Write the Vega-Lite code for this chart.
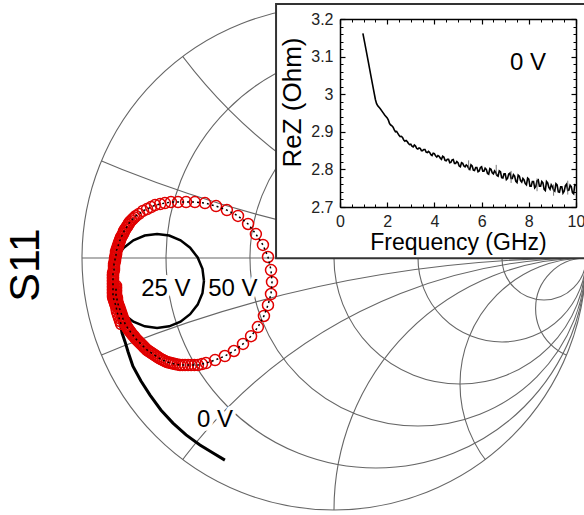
{
  "$schema": "https://vega.github.io/schema/vega-lite/v6.json",
  "width": 584,
  "height": 515,
  "autosize": {"type": "none"},
  "padding": 0,
  "background": "white",
  "config": {"view": {"stroke": null}, "font": "Liberation Sans"},
  "datasets": {
    "arcs": [
      {"u": 1, "v": 5, "rad": 5}, {"u": 1, "v": -5, "rad": 5},
      {"u": 1, "v": 2, "rad": 2}, {"u": 1, "v": -2, "rad": 2},
      {"u": 1, "v": 1, "rad": 1}, {"u": 1, "v": -1, "rad": 1},
      {"u": 1, "v": 0.5, "rad": 0.5}, {"u": 1, "v": -0.5, "rad": 0.5},
      {"u": 1, "v": 0.2, "rad": 0.2}, {"u": 1, "v": -0.2, "rad": 0.2}
    ],
    "mask": [{"u": 0, "v": 0, "rad": 1.357}],
    "circles": [
      {"u": 0, "v": 0, "rad": 1},
      {"u": 0.1667, "v": 0, "rad": 0.8333},
      {"u": 0.3333, "v": 0, "rad": 0.6667},
      {"u": 0.5, "v": 0, "rad": 0.5},
      {"u": 0.6667, "v": 0, "rad": 0.3333},
      {"u": 0.8333, "v": 0, "rad": 0.1667}
    ],
    "hline": [{"u": -1, "v": 0}, {"u": 1, "v": 0}],
    "labels": [
      {"u": -0.667, "v": -0.123, "t": "25 V"},
      {"u": -0.401, "v": -0.123, "t": "50 V"},
      {"u": -0.472, "v": -0.643, "t": "0 V"}
    ],
    "s11": [{"u": -1.222, "v": -0.028, "t": "S11"}],
    "s0": [
      {"k": 0, "u": -0.865, "v": -0.167}, {"k": 1, "u": -0.857, "v": -0.214},
      {"k": 2, "u": -0.849, "v": -0.258}, {"k": 3, "u": -0.841, "v": -0.298},
      {"k": 4, "u": -0.829, "v": -0.333}, {"k": 5, "u": -0.817, "v": -0.373},
      {"k": 6, "u": -0.798, "v": -0.429}, {"k": 7, "u": -0.766, "v": -0.488},
      {"k": 8, "u": -0.730, "v": -0.544}, {"k": 9, "u": -0.687, "v": -0.603},
      {"k": 10, "u": -0.639, "v": -0.655}, {"k": 11, "u": -0.587, "v": -0.702},
      {"k": 12, "u": -0.532, "v": -0.742}, {"k": 13, "u": -0.480, "v": -0.774},
      {"k": 14, "u": -0.433, "v": -0.802}
    ],
    "s25": [
      {"k": 0, "u": -0.516, "v": -0.091}, {"k": 1, "u": -0.522, "v": -0.043},
      {"k": 2, "u": -0.541, "v": 0.002}, {"k": 3, "u": -0.571, "v": 0.041},
      {"k": 4, "u": -0.609, "v": 0.070}, {"k": 5, "u": -0.654, "v": 0.089},
      {"k": 6, "u": -0.702, "v": 0.095}, {"k": 7, "u": -0.751, "v": 0.089},
      {"k": 8, "u": -0.796, "v": 0.070}, {"k": 9, "u": -0.834, "v": 0.041},
      {"k": 10, "u": -0.864, "v": 0.002}, {"k": 11, "u": -0.883, "v": -0.043},
      {"k": 12, "u": -0.889, "v": -0.091}, {"k": 13, "u": -0.883, "v": -0.140},
      {"k": 14, "u": -0.864, "v": -0.185}, {"k": 15, "u": -0.834, "v": -0.223},
      {"k": 16, "u": -0.796, "v": -0.253}, {"k": 17, "u": -0.751, "v": -0.271},
      {"k": 18, "u": -0.702, "v": -0.278}, {"k": 19, "u": -0.654, "v": -0.271},
      {"k": 20, "u": -0.609, "v": -0.253}, {"k": 21, "u": -0.571, "v": -0.223},
      {"k": 22, "u": -0.541, "v": -0.185}, {"k": 23, "u": -0.522, "v": -0.140},
      {"k": 24, "u": -0.516, "v": -0.091}
    ],
    "s50": [
      {"k": 0, "u": -0.845, "v": -0.262}, {"k": 0.5, "u": -0.849, "v": -0.250},
      {"k": 1, "u": -0.853, "v": -0.238}, {"k": 1.5, "u": -0.857, "v": -0.226},
      {"k": 2, "u": -0.861, "v": -0.214}, {"k": 2.5, "u": -0.863, "v": -0.202},
      {"k": 3, "u": -0.865, "v": -0.190}, {"k": 3.5, "u": -0.867, "v": -0.185},
      {"k": 4, "u": -0.869, "v": -0.179}, {"k": 4.5, "u": -0.871, "v": -0.173},
      {"k": 5, "u": -0.873, "v": -0.167}, {"k": 5.5, "u": -0.875, "v": -0.161},
      {"k": 6, "u": -0.877, "v": -0.155}, {"k": 6.5, "u": -0.877, "v": -0.149},
      {"k": 7, "u": -0.877, "v": -0.143}, {"k": 7.5, "u": -0.877, "v": -0.137},
      {"k": 8, "u": -0.877, "v": -0.131}, {"k": 8.5, "u": -0.877, "v": -0.125},
      {"k": 9, "u": -0.877, "v": -0.119}, {"k": 9.5, "u": -0.877, "v": -0.113},
      {"k": 10, "u": -0.877, "v": -0.107}, {"k": 10.5, "u": -0.877, "v": -0.101},
      {"k": 11, "u": -0.877, "v": -0.095}, {"k": 11.5, "u": -0.877, "v": -0.089},
      {"k": 12, "u": -0.877, "v": -0.083}, {"k": 12.5, "u": -0.877, "v": -0.077},
      {"k": 13, "u": -0.877, "v": -0.071}, {"k": 13.5, "u": -0.877, "v": -0.066},
      {"k": 14, "u": -0.877, "v": -0.060}, {"k": 14.5, "u": -0.875, "v": -0.054},
      {"k": 15, "u": -0.873, "v": -0.048}, {"k": 15.5, "u": -0.873, "v": -0.042},
      {"k": 16, "u": -0.873, "v": -0.036}, {"k": 16.5, "u": -0.873, "v": -0.030},
      {"k": 17, "u": -0.873, "v": -0.024}, {"k": 17.5, "u": -0.871, "v": -0.018},
      {"k": 18, "u": -0.869, "v": -0.012}, {"k": 18.5, "u": -0.869, "v": -0.006},
      {"k": 19, "u": -0.869, "v": 0.000}, {"k": 19.5, "u": -0.867, "v": 0.006},
      {"k": 20, "u": -0.865, "v": 0.012}, {"k": 20.5, "u": -0.865, "v": 0.018},
      {"k": 21, "u": -0.865, "v": 0.024}, {"k": 21.5, "u": -0.863, "v": 0.030},
      {"k": 22, "u": -0.861, "v": 0.036}, {"k": 22.5, "u": -0.859, "v": 0.042},
      {"k": 23, "u": -0.857, "v": 0.048}, {"k": 23.5, "u": -0.855, "v": 0.054},
      {"k": 24, "u": -0.853, "v": 0.060}, {"k": 24.5, "u": -0.851, "v": 0.066},
      {"k": 25, "u": -0.849, "v": 0.071}, {"k": 25.5, "u": -0.847, "v": 0.077},
      {"k": 26, "u": -0.845, "v": 0.083}, {"k": 26.5, "u": -0.841, "v": 0.089},
      {"k": 27, "u": -0.837, "v": 0.095}, {"k": 27.5, "u": -0.835, "v": 0.101},
      {"k": 28, "u": -0.833, "v": 0.107}, {"k": 28.5, "u": -0.829, "v": 0.113},
      {"k": 29, "u": -0.825, "v": 0.119}, {"k": 29.5, "u": -0.821, "v": 0.125},
      {"k": 30, "u": -0.817, "v": 0.131}, {"k": 30.5, "u": -0.814, "v": 0.137},
      {"k": 31, "u": -0.810, "v": 0.143}, {"k": 31.5, "u": -0.804, "v": 0.149},
      {"k": 32, "u": -0.798, "v": 0.155}, {"k": 32.5, "u": -0.792, "v": 0.161},
      {"k": 33, "u": -0.786, "v": 0.167},
      {"k": 34, "u": -0.774, "v": 0.175}, {"k": 35, "u": -0.758, "v": 0.187},
      {"k": 36, "u": -0.742, "v": 0.194}, {"k": 37, "u": -0.726, "v": 0.202},
      {"k": 38, "u": -0.710, "v": 0.210}, {"k": 39, "u": -0.690, "v": 0.214},
      {"k": 40, "u": -0.671, "v": 0.218}, {"k": 41, "u": -0.647, "v": 0.222},
      {"k": 42, "u": -0.619, "v": 0.222}, {"k": 43, "u": -0.587, "v": 0.222},
      {"k": 44, "u": -0.552, "v": 0.222}, {"k": 45, "u": -0.512, "v": 0.218},
      {"k": 46, "u": -0.468, "v": 0.206}, {"k": 47, "u": -0.425, "v": 0.190},
      {"k": 48, "u": -0.381, "v": 0.167}, {"k": 49, "u": -0.341, "v": 0.135},
      {"k": 50, "u": -0.310, "v": 0.095}, {"k": 51, "u": -0.282, "v": 0.052},
      {"k": 52, "u": -0.262, "v": 0.004}, {"k": 53, "u": -0.250, "v": -0.048},
      {"k": 54, "u": -0.246, "v": -0.095}, {"k": 55, "u": -0.250, "v": -0.143},
      {"k": 56, "u": -0.262, "v": -0.187}, {"k": 57, "u": -0.278, "v": -0.230},
      {"k": 58, "u": -0.302, "v": -0.274}, {"k": 59, "u": -0.329, "v": -0.310},
      {"k": 60, "u": -0.361, "v": -0.341}, {"k": 61, "u": -0.397, "v": -0.369},
      {"k": 62, "u": -0.433, "v": -0.389}, {"k": 63, "u": -0.472, "v": -0.405},
      {"k": 64, "u": -0.508, "v": -0.417}, {"k": 64.5, "u": -0.524, "v": -0.421},
      {"k": 65, "u": -0.540, "v": -0.425}, {"k": 65.5, "u": -0.554, "v": -0.425},
      {"k": 66, "u": -0.567, "v": -0.425}, {"k": 66.5, "u": -0.579, "v": -0.425},
      {"k": 67, "u": -0.591, "v": -0.425}, {"k": 67.5, "u": -0.601, "v": -0.425},
      {"k": 68, "u": -0.611, "v": -0.425}, {"k": 68.5, "u": -0.621, "v": -0.423},
      {"k": 69, "u": -0.631, "v": -0.421}, {"k": 69.5, "u": -0.639, "v": -0.419},
      {"k": 70, "u": -0.647, "v": -0.417}, {"k": 70.5, "u": -0.655, "v": -0.415},
      {"k": 71, "u": -0.663, "v": -0.413}, {"k": 71.5, "u": -0.671, "v": -0.409},
      {"k": 72, "u": -0.679, "v": -0.405}, {"k": 72.5, "u": -0.687, "v": -0.401},
      {"k": 73, "u": -0.694, "v": -0.397}, {"k": 73.5, "u": -0.700, "v": -0.393},
      {"k": 74, "u": -0.706, "v": -0.389}, {"k": 74.5, "u": -0.712, "v": -0.385},
      {"k": 75, "u": -0.718, "v": -0.381}, {"k": 75.5, "u": -0.724, "v": -0.377},
      {"k": 76, "u": -0.730, "v": -0.373}, {"k": 76.5, "u": -0.736, "v": -0.369},
      {"k": 77, "u": -0.742, "v": -0.365}, {"k": 77.5, "u": -0.748, "v": -0.359},
      {"k": 78, "u": -0.754, "v": -0.353}, {"k": 78.5, "u": -0.758, "v": -0.349},
      {"k": 79, "u": -0.762, "v": -0.345}, {"k": 79.5, "u": -0.766, "v": -0.341},
      {"k": 80, "u": -0.770, "v": -0.337}, {"k": 80.5, "u": -0.774, "v": -0.333},
      {"k": 81, "u": -0.778, "v": -0.329}, {"k": 81.5, "u": -0.782, "v": -0.325},
      {"k": 82, "u": -0.786, "v": -0.321}, {"k": 82.5, "u": -0.790, "v": -0.316},
      {"k": 83, "u": -0.794, "v": -0.310}, {"k": 83.5, "u": -0.798, "v": -0.306},
      {"k": 84, "u": -0.802, "v": -0.302}, {"k": 84.5, "u": -0.806, "v": -0.296},
      {"k": 85, "u": -0.810, "v": -0.290}, {"k": 85.5, "u": -0.814, "v": -0.286},
      {"k": 86, "u": -0.817, "v": -0.282}, {"k": 86.5, "u": -0.819, "v": -0.278},
      {"k": 87, "u": -0.821, "v": -0.274}, {"k": 87.5, "u": -0.825, "v": -0.268},
      {"k": 88, "u": -0.829, "v": -0.262}, {"k": 88.5, "u": -0.831, "v": -0.256},
      {"k": 89, "u": -0.833, "v": -0.250}, {"k": 89.5, "u": -0.835, "v": -0.246},
      {"k": 90, "u": -0.837, "v": -0.242}, {"k": 90.5, "u": -0.839, "v": -0.236},
      {"k": 91, "u": -0.841, "v": -0.230}, {"k": 91.5, "u": -0.843, "v": -0.224},
      {"k": 92, "u": -0.845, "v": -0.218}, {"k": 92.5, "u": -0.847, "v": -0.212},
      {"k": 93, "u": -0.849, "v": -0.206}, {"k": 93.5, "u": -0.851, "v": -0.200},
      {"k": 94, "u": -0.853, "v": -0.194}, {"k": 94.5, "u": -0.855, "v": -0.189},
      {"k": 95, "u": -0.857, "v": -0.183}, {"k": 95.5, "u": -0.859, "v": -0.177},
      {"k": 96, "u": -0.861, "v": -0.171}, {"k": 96.5, "u": -0.861, "v": -0.165},
      {"k": 97, "u": -0.861, "v": -0.159}, {"k": 97.5, "u": -0.863, "v": -0.153},
      {"k": 98, "u": -0.865, "v": -0.147}, {"k": 98.5, "u": -0.865, "v": -0.141},
      {"k": 99, "u": -0.865, "v": -0.135}, {"k": 99.5, "u": -0.865, "v": -0.129},
      {"k": 100, "u": -0.865, "v": -0.123}, {"k": 100.5, "u": -0.865, "v": -0.117},
      {"k": 101, "u": -0.865, "v": -0.111}
    ],
    "box": [{"f": -2.71, "f2": 10.6, "z": 2.564, "z2": 3.240}],
    "inlabel": [{"f": 7.97, "z": 3.083, "t": "0 V"}],
    "spikes": [
      {"f": 5.45, "z": 2.798, "z2": 2.824}, {"f": 6.62, "z": 2.784, "z2": 2.812},
      {"f": 7.25, "z": 2.764, "z2": 2.796}, {"f": 8.35, "z": 2.742, "z2": 2.776},
      {"f": 9.05, "z": 2.730, "z2": 2.760}, {"f": 9.65, "z": 2.733, "z2": 2.770}
    ],
    "rez": [
      {"f": 0.97, "z": 3.162}, {"f": 1.05, "z": 3.136}, {"f": 1.1, "z": 3.119},
      {"f": 1.2, "z": 3.086}, {"f": 1.3, "z": 3.052}, {"f": 1.4, "z": 3.019},
      {"f": 1.5, "z": 2.986}, {"f": 1.55, "z": 2.975}, {"f": 1.6, "z": 2.969},
      {"f": 1.7, "z": 2.962}, {"f": 1.8, "z": 2.953}, {"f": 1.9, "z": 2.944},
      {"f": 2.0, "z": 2.937}, {"f": 2.05, "z": 2.931}, {"f": 2.1, "z": 2.922}, {"f": 2.15, "z": 2.918},
      {"f": 2.2, "z": 2.916}, {"f": 2.25, "z": 2.912}, {"f": 2.3, "z": 2.905}, {"f": 2.35, "z": 2.900},
      {"f": 2.4, "z": 2.901}, {"f": 2.45, "z": 2.896}, {"f": 2.5, "z": 2.891}, {"f": 2.55, "z": 2.887},
      {"f": 2.6, "z": 2.888}, {"f": 2.65, "z": 2.885}, {"f": 2.7, "z": 2.878}, {"f": 2.75, "z": 2.875},
      {"f": 2.8, "z": 2.877}, {"f": 2.85, "z": 2.874}, {"f": 2.9, "z": 2.869}, {"f": 2.95, "z": 2.866},
      {"f": 3.0, "z": 2.867}, {"f": 3.05, "z": 2.862}, {"f": 3.1, "z": 2.860}, {"f": 3.15, "z": 2.865},
      {"f": 3.2, "z": 2.862}, {"f": 3.25, "z": 2.856}, {"f": 3.3, "z": 2.854}, {"f": 3.35, "z": 2.857},
      {"f": 3.4, "z": 2.856}, {"f": 3.45, "z": 2.850}, {"f": 3.5, "z": 2.850}, {"f": 3.55, "z": 2.853},
      {"f": 3.6, "z": 2.853}, {"f": 3.65, "z": 2.846}, {"f": 3.7, "z": 2.845}, {"f": 3.75, "z": 2.848},
      {"f": 3.8, "z": 2.845}, {"f": 3.85, "z": 2.839}, {"f": 3.9, "z": 2.837}, {"f": 3.95, "z": 2.843},
      {"f": 4.0, "z": 2.842}, {"f": 4.05, "z": 2.836}, {"f": 4.1, "z": 2.833}, {"f": 4.15, "z": 2.837},
      {"f": 4.2, "z": 2.835}, {"f": 4.25, "z": 2.830}, {"f": 4.3, "z": 2.827}, {"f": 4.35, "z": 2.835},
      {"f": 4.4, "z": 2.833}, {"f": 4.45, "z": 2.824}, {"f": 4.5, "z": 2.823}, {"f": 4.55, "z": 2.827},
      {"f": 4.6, "z": 2.827}, {"f": 4.65, "z": 2.818}, {"f": 4.7, "z": 2.819}, {"f": 4.75, "z": 2.825},
      {"f": 4.8, "z": 2.826}, {"f": 4.85, "z": 2.816}, {"f": 4.9, "z": 2.816}, {"f": 4.95, "z": 2.821},
      {"f": 5.0, "z": 2.818}, {"f": 5.05, "z": 2.809}, {"f": 5.1, "z": 2.807}, {"f": 5.15, "z": 2.818},
      {"f": 5.2, "z": 2.816}, {"f": 5.25, "z": 2.809}, {"f": 5.3, "z": 2.807}, {"f": 5.35, "z": 2.812},
      {"f": 5.4, "z": 2.809}, {"f": 5.45, "z": 2.803}, {"f": 5.5, "z": 2.800}, {"f": 5.55, "z": 2.812},
      {"f": 5.6, "z": 2.809}, {"f": 5.65, "z": 2.798}, {"f": 5.7, "z": 2.797}, {"f": 5.75, "z": 2.805},
      {"f": 5.8, "z": 2.805}, {"f": 5.85, "z": 2.794}, {"f": 5.9, "z": 2.796}, {"f": 5.95, "z": 2.805},
      {"f": 6.0, "z": 2.807}, {"f": 6.05, "z": 2.795}, {"f": 6.1, "z": 2.795}, {"f": 6.15, "z": 2.803},
      {"f": 6.2, "z": 2.800}, {"f": 6.25, "z": 2.789}, {"f": 6.3, "z": 2.787}, {"f": 6.35, "z": 2.802},
      {"f": 6.4, "z": 2.800}, {"f": 6.45, "z": 2.791}, {"f": 6.5, "z": 2.788}, {"f": 6.55, "z": 2.796},
      {"f": 6.6, "z": 2.792}, {"f": 6.65, "z": 2.784}, {"f": 6.7, "z": 2.782}, {"f": 6.75, "z": 2.796},
      {"f": 6.8, "z": 2.794}, {"f": 6.85, "z": 2.778}, {"f": 6.9, "z": 2.777}, {"f": 6.95, "z": 2.788},
      {"f": 7.0, "z": 2.788}, {"f": 7.05, "z": 2.773}, {"f": 7.1, "z": 2.776}, {"f": 7.15, "z": 2.788},
      {"f": 7.2, "z": 2.790}, {"f": 7.25, "z": 2.776}, {"f": 7.3, "z": 2.776}, {"f": 7.35, "z": 2.786},
      {"f": 7.4, "z": 2.782}, {"f": 7.45, "z": 2.768}, {"f": 7.5, "z": 2.765}, {"f": 7.55, "z": 2.785},
      {"f": 7.6, "z": 2.782}, {"f": 7.65, "z": 2.770}, {"f": 7.7, "z": 2.766}, {"f": 7.75, "z": 2.776},
      {"f": 7.8, "z": 2.772}, {"f": 7.85, "z": 2.762}, {"f": 7.9, "z": 2.759}, {"f": 7.95, "z": 2.777},
      {"f": 8.0, "z": 2.774}, {"f": 8.05, "z": 2.755}, {"f": 8.1, "z": 2.755}, {"f": 8.15, "z": 2.768},
      {"f": 8.2, "z": 2.768}, {"f": 8.25, "z": 2.751}, {"f": 8.3, "z": 2.755}, {"f": 8.35, "z": 2.770},
      {"f": 8.4, "z": 2.772}, {"f": 8.45, "z": 2.755}, {"f": 8.5, "z": 2.755}, {"f": 8.55, "z": 2.768},
      {"f": 8.6, "z": 2.764}, {"f": 8.65, "z": 2.747}, {"f": 8.7, "z": 2.744}, {"f": 8.75, "z": 2.768},
      {"f": 8.8, "z": 2.764}, {"f": 8.85, "z": 2.752}, {"f": 8.9, "z": 2.747}, {"f": 8.95, "z": 2.759},
      {"f": 9.0, "z": 2.754}, {"f": 9.05, "z": 2.745}, {"f": 9.1, "z": 2.742}, {"f": 9.15, "z": 2.762},
      {"f": 9.2, "z": 2.759}, {"f": 9.25, "z": 2.740}, {"f": 9.3, "z": 2.739}, {"f": 9.35, "z": 2.754},
      {"f": 9.4, "z": 2.754}, {"f": 9.45, "z": 2.737}, {"f": 9.5, "z": 2.742}, {"f": 9.55, "z": 2.757},
      {"f": 9.6, "z": 2.761}, {"f": 9.65, "z": 2.744}, {"f": 9.7, "z": 2.745}, {"f": 9.75, "z": 2.758},
      {"f": 9.8, "z": 2.754}, {"f": 9.85, "z": 2.738}, {"f": 9.9, "z": 2.735}, {"f": 9.95, "z": 2.759},
      {"f": 10.0, "z": 2.757}
    ]
  },
  "layer": [
    {
      "encoding": {
        "x": {"field": "u", "type": "quantitative", "scale": {"domain": [-1.3254, 0.9921], "nice": false, "zero": false}, "axis": null},
        "y": {"field": "v", "type": "quantitative", "scale": {"domain": [-1.0198, 1.0238], "nice": false, "zero": false}, "axis": null}
      },
      "layer": [
        {"data": {"name": "arcs"}, "mark": {"type": "point", "shape": "circle", "filled": false, "color": "#666666", "strokeWidth": 1.1, "opacity": 1},
         "encoding": {"size": {"field": "rad", "type": "quantitative", "scale": {"type": "pow", "exponent": 2, "domain": [0, 1], "range": [0, 254016]}, "legend": null}}},
        {"data": {"name": "mask"}, "mark": {"type": "point", "shape": "circle", "filled": false, "color": "white", "strokeWidth": 180, "opacity": 1},
         "encoding": {"size": {"field": "rad", "type": "quantitative", "scale": {"type": "pow", "exponent": 2, "domain": [0, 1], "range": [0, 254016]}, "legend": null}}},
        {"data": {"name": "circles"}, "mark": {"type": "point", "shape": "circle", "filled": false, "color": "#666666", "strokeWidth": 1.1, "opacity": 1},
         "encoding": {"size": {"field": "rad", "type": "quantitative", "scale": {"type": "pow", "exponent": 2, "domain": [0, 1], "range": [0, 254016]}, "legend": null}}},
        {"data": {"name": "hline"}, "mark": {"type": "line", "color": "#666666", "strokeWidth": 1.1}},
        {"data": {"name": "labels"}, "mark": {"type": "text", "fontSize": 24, "font": "Liberation Sans", "color": "white", "stroke": "white", "strokeWidth": 8, "strokeJoin": "round"},
         "encoding": {"text": {"field": "t"}}},
        {"data": {"name": "s0"}, "mark": {"type": "line", "color": "black", "strokeWidth": 3}, "encoding": {"order": {"field": "k"}}},
        {"data": {"name": "s25"}, "mark": {"type": "line", "color": "black", "strokeWidth": 2.5}, "encoding": {"order": {"field": "k"}}},
        {"data": {"name": "s50"}, "mark": {"type": "point", "shape": "circle", "filled": false, "color": "#e00000", "size": 121, "strokeWidth": 1.5, "opacity": 1}},
        {"data": {"name": "s50"}, "mark": {"type": "line", "color": "black", "strokeWidth": 1.5, "strokeDash": [2, 3]}, "encoding": {"order": {"field": "k"}}},
        {"data": {"name": "labels"}, "mark": {"type": "text", "fontSize": 24, "font": "Liberation Sans", "color": "black"},
         "encoding": {"text": {"field": "t"}}},
        {"data": {"name": "s11"}, "mark": {"type": "text", "fontSize": 43, "font": "Liberation Sans", "angle": 270, "color": "black"},
         "encoding": {"text": {"field": "t"}}}
      ]
    },
    {
      "layer": [
        {"data": {"name": "box"}, "mark": {"type": "rect", "fill": "white", "stroke": "#333", "strokeWidth": 2},
         "encoding": {
           "x": {"field": "f", "type": "quantitative", "scale": {"domain": [0, 10], "range": [340, 576], "nice": false, "zero": false},
                 "axis": {"orient": "bottom", "offset": -308, "values": [0, 2, 4, 6, 8, 10], "tickSize": -5, "tickColor": "black", "tickWidth": 1.2,
                          "domainColor": "black", "domainWidth": 1.5, "labelFontSize": 16, "labelFont": "Liberation Sans", "labelColor": "#222", "labelPadding": 11,
                          "labelFlush": false, "labelOverlap": false, "grid": false, "zindex": 1,
                          "title": "Frequency (GHz)", "titleFontSize": 23, "titleFont": "Liberation Sans", "titleFontWeight": "normal", "titleColor": "black", "titlePadding": 2}},
           "x2": {"field": "f2"},
           "y": {"field": "z", "type": "quantitative", "scale": {"domain": [2.7, 3.2], "range": [207, 19], "nice": false, "zero": false},
                 "axis": {"orient": "left", "offset": -340, "values": [2.7, 2.8, 2.9, 3.0, 3.1, 3.2], "tickSize": -5, "tickColor": "black", "tickWidth": 1.2,
                          "domainColor": "black", "domainWidth": 1.5, "labelFontSize": 16, "labelFont": "Liberation Sans", "labelColor": "#222", "labelPadding": 12,
                          "labelExpr": "format(datum.value, '.1~f')", "labelFlush": false, "labelOverlap": false, "grid": false, "zindex": 1,
                          "title": "ReZ (Ohm)", "titleFontSize": 26, "titleFont": "Liberation Sans", "titleFontWeight": "normal", "titleColor": "black", "titlePadding": 5, "titleY": 102}},
           "y2": {"field": "z2"}
         }},
        {"data": {"name": "rez"}, "mark": {"type": "line", "color": "black", "strokeWidth": 1.6},
         "encoding": {
           "x": {"field": "f", "type": "quantitative", "scale": {"domain": [0, 10], "range": [340, 576], "nice": false, "zero": false},
                 "axis": {"orient": "top", "offset": -19, "values": [0, 2, 4, 6, 8, 10], "tickSize": -5, "tickColor": "black", "tickWidth": 1.2,
                          "domainColor": "black", "domainWidth": 1.5, "labels": false, "title": null, "grid": false, "zindex": 1}},
           "y": {"field": "z", "type": "quantitative", "scale": {"domain": [2.7, 3.2], "range": [207, 19], "nice": false, "zero": false},
                 "axis": {"orient": "right", "offset": -8, "values": [2.7, 2.8, 2.9, 3.0, 3.1, 3.2], "tickSize": -5, "tickColor": "black", "tickWidth": 1.2,
                          "domainColor": "black", "domainWidth": 1.5, "labels": false, "title": null, "grid": false, "zindex": 1}}
         }},
        {"data": {"name": "spikes"}, "mark": {"type": "rule", "color": "#555", "strokeWidth": 0.8},
         "encoding": {
           "x": {"field": "f", "type": "quantitative", "scale": {"domain": [0, 10], "range": [340, 576], "nice": false, "zero": false},
                 "axis": {"orient": "bottom", "offset": -308, "values": [0, 0.5, 1, 1.5, 2, 2.5, 3, 3.5, 4, 4.5, 5, 5.5, 6, 6.5, 7, 7.5, 8, 8.5, 9, 9.5, 10],
                          "tickSize": -3, "tickColor": "black", "tickWidth": 1, "domain": false, "labels": false, "title": null, "grid": false, "zindex": 1}},
           "y": {"field": "z", "type": "quantitative", "scale": {"domain": [2.7, 3.2], "range": [207, 19], "nice": false, "zero": false},
                 "axis": {"orient": "left", "offset": -340, "values": [2.7, 2.72, 2.74, 2.76, 2.78, 2.8, 2.82, 2.84, 2.86, 2.88, 2.9, 2.92, 2.94, 2.96, 2.98, 3.0, 3.02, 3.04, 3.06, 3.08, 3.1, 3.12, 3.14, 3.16, 3.18, 3.2],
                          "tickSize": -3, "tickColor": "black", "tickWidth": 1, "domain": false, "labels": false, "title": null, "grid": false, "zindex": 1}},
           "y2": {"field": "z2"}
         }},
        {"data": {"name": "inlabel"}, "mark": {"type": "text", "fontSize": 24, "font": "Liberation Sans", "color": "black"},
         "encoding": {
           "x": {"field": "f", "type": "quantitative", "scale": {"domain": [0, 10], "range": [340, 576], "nice": false, "zero": false},
                 "axis": {"orient": "top", "offset": -19, "values": [0, 0.5, 1, 1.5, 2, 2.5, 3, 3.5, 4, 4.5, 5, 5.5, 6, 6.5, 7, 7.5, 8, 8.5, 9, 9.5, 10],
                          "tickSize": -3, "tickColor": "black", "tickWidth": 1, "domain": false, "labels": false, "title": null, "grid": false, "zindex": 1}},
           "y": {"field": "z", "type": "quantitative", "scale": {"domain": [2.7, 3.2], "range": [207, 19], "nice": false, "zero": false},
                 "axis": {"orient": "right", "offset": -8, "values": [2.7, 2.72, 2.74, 2.76, 2.78, 2.8, 2.82, 2.84, 2.86, 2.88, 2.9, 2.92, 2.94, 2.96, 2.98, 3.0, 3.02, 3.04, 3.06, 3.08, 3.1, 3.12, 3.14, 3.16, 3.18, 3.2],
                          "tickSize": -3, "tickColor": "black", "tickWidth": 1, "domain": false, "labels": false, "title": null, "grid": false, "zindex": 1}},
           "text": {"field": "t"}
         }}
      ],
      "resolve": {"axis": {"x": "independent", "y": "independent"}}
    }
  ],
  "resolve": {"scale": {"x": "independent", "y": "independent"}, "axis": {"x": "independent", "y": "independent"}}
}
